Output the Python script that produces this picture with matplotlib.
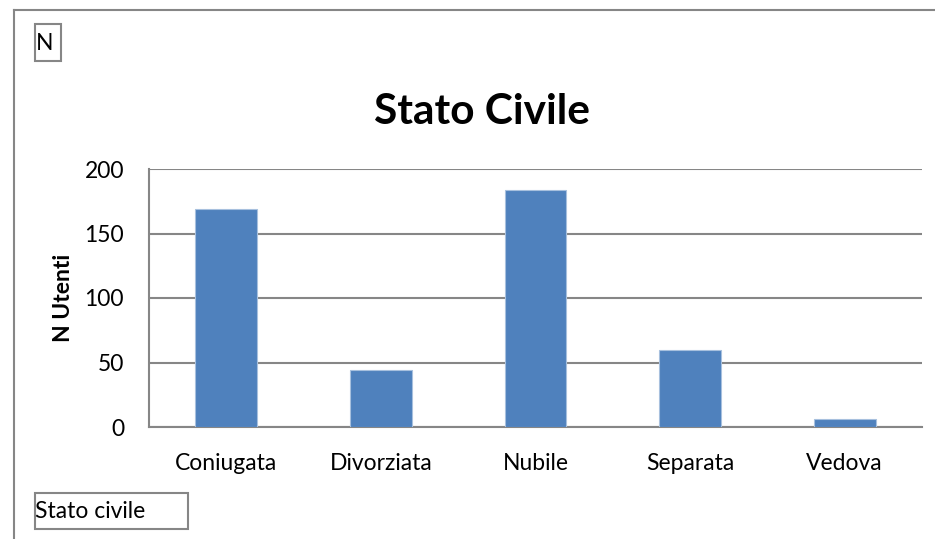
import matplotlib.pyplot as plt
from matplotlib.lines import Line2D
from matplotlib.patches import Rectangle

categories = ["Coniugata", "Divorziata", "Nubile", "Separata", "Vedova"]
values = [169, 44, 184, 60, 6]
yticks = [0, 50, 100, 150, 200]

W, H = 935, 539
plt.rcParams['font.family'] = ['Lato', 'DejaVu Sans']

fig = plt.figure(figsize=(W / 100, H / 100), dpi=100)
fig.patch.set_facecolor("white")

# chart area border (only left and top visible in the crop)
fig.add_artist(Line2D([13.5 / W, 13.5 / W], [0, 1 - 9.5 / H], color="#868686", lw=1.5))
fig.add_artist(Line2D([13.5 / W, 1], [1 - 9.5 / H, 1 - 9.5 / H], color="#868686", lw=1.5))

ax = fig.add_axes([149 / W, (H - 427) / H, (922 - 149) / W, (427 - 169) / H])
x = range(len(categories))
ax.bar(x, values, width=0.4, color="#4F81BD", edgecolor="#A7C0DE", linewidth=0.8, zorder=3)
ax.set_xlim(-0.5, len(categories) - 0.5)
ax.set_ylim(0, 200)
ax.set_yticks(yticks)
ax.set_xticks(list(x))
ax.set_xticklabels(categories)
ax.tick_params(axis="both", length=0, labelsize=16.5, colors="black")
ax.tick_params(axis="x", pad=19)
ax.tick_params(axis="y", pad=18)
ax.grid(axis="y", color="#868686", linewidth=1.5, zorder=0)
for s in ["top", "right"]:
    ax.spines[s].set_visible(False)
for s in ["left", "bottom"]:
    ax.spines[s].set_color("#868686")
    ax.spines[s].set_linewidth(1.5)

ax.set_ylabel("N Utenti", fontsize=16.5, fontweight="bold")
ax.yaxis.set_label_coords((74 - 149) / 773, 0.5)
fig.text(482 / W, 1 - 112 / H, "Stato Civile", fontsize=30.5, fontweight="bold",
         ha="center", va="center")

# pivot field buttons
fig.add_artist(Rectangle((34.5 / W, 1 - 61 / H), 26 / W, 37 / H, transform=fig.transFigure,
                         fc="white", ec="#868686", lw=1.5))
fig.text(36 / W, 1 - 43 / H, "N", fontsize=16.5, ha="left", va="center")
fig.add_artist(Rectangle((34.5 / W, 1 - 529 / H), 153 / W, 36 / H, transform=fig.transFigure,
                         fc="white", ec="#868686", lw=1.5))
fig.text(35 / W, 1 - 511 / H, "Stato civile", fontsize=16.5, ha="left", va="center")

fig.savefig("out.png", dpi=100)
